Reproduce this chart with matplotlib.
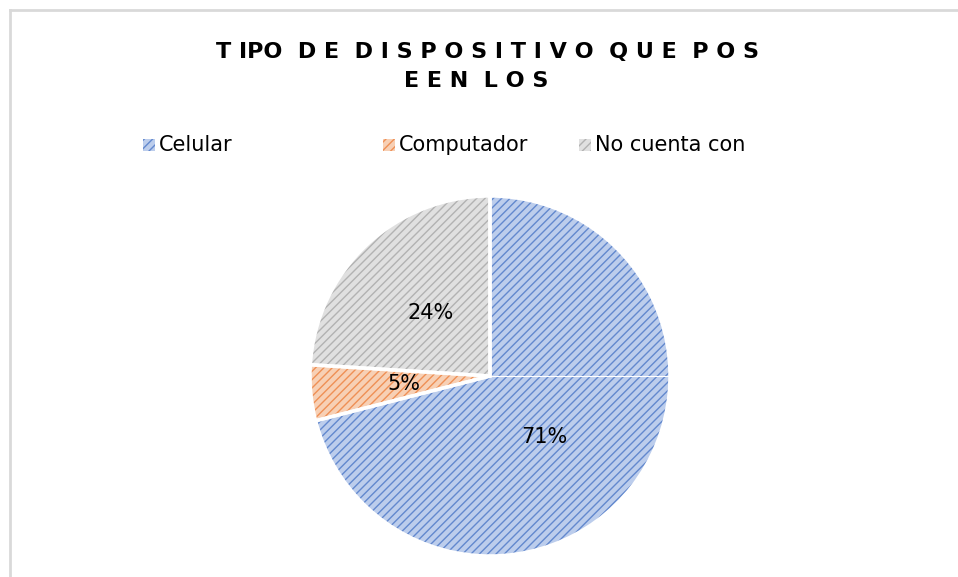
import matplotlib
matplotlib.use("Agg")
import matplotlib.pyplot as plt
from matplotlib.patches import Rectangle

categories = ["Celular", "Computador", "No cuenta con"]
values = [71, 5, 24]
title_lines = ["T IPO  D E  D I S P O S I T I V O  Q U E  P O S", "E E N  L O S"]

face_colors = ["#BCCDEC", "#F7D0B5", "#E0E0E0"]
hatch_colors = ["#6288CE", "#EF9055", "#B2B2B2"]

plt.rcParams["font.family"] = ["DejaVu Sans"]
plt.rcParams["hatch.linewidth"] = 1.0

W, H = 958, 577
fig = plt.figure(figsize=(W / 100, H / 100), dpi=100)
fig.patch.set_facecolor("white")

# chart border (top and left visible)
fig.add_artist(plt.Line2D([10 / W, 1.0], [1 - 10 / H, 1 - 10 / H], color="#D9D9D9", lw=2,
                          transform=fig.transFigure))
fig.add_artist(plt.Line2D([10 / W, 10 / W], [0, 1 - 10 / H], color="#D9D9D9", lw=2,
                          transform=fig.transFigure))

# pie axes: center (490, 376), radius 180 px
cx, cy, r = 490, 376, 180
ax = fig.add_axes([(cx - r) / W, 1 - (cy + r) / H, 2 * r / W, 2 * r / H])

wedges, texts, autotexts = ax.pie(
    values, colors=face_colors, startangle=90, counterclock=False, radius=1,
    autopct="%1.0f%%", pctdistance=0.48,
    wedgeprops=dict(edgecolor="white", linewidth=0),
    textprops=dict(fontsize=15, color="black"))
# hatch overlay
wedges2, _ = ax.pie(values, colors=["none"] * 3, startangle=90, counterclock=False, radius=1,
                    wedgeprops=dict(linewidth=0))
for w, hc in zip(wedges2, hatch_colors):
    w.set_hatch("////")
    w.set_edgecolor(hc)
    w.set_facecolor("none")
# white separators
wedges3, _ = ax.pie(values, colors=["none"] * 3, startangle=90, counterclock=False, radius=1,
                    wedgeprops=dict(edgecolor="white", linewidth=2.5, fill=False))
ax.plot([0, 1], [0, 0], color="white", lw=0.8)
for t in autotexts:
    t.set_zorder(10)
autotexts[0].set_position((0.30, -0.34))
ax.set_xlim(-1, 1)
ax.set_ylim(-1, 1)
ax.set_aspect("equal")
ax.axis("off")

# title
fig.text(487 / W, 1 - 52 / H, title_lines[0], ha="center", va="center",
         fontsize=16, fontweight="bold", color="black")
fig.text(476 / W, 1 - 81 / H, title_lines[1], ha="center", va="center",
         fontsize=16, fontweight="bold", color="black")

# legend entries
leg_x = [143, 383, 579]
for x, lab, fc, hc in zip(leg_x, categories, face_colors, hatch_colors):
    sq = 12
    fig.add_artist(Rectangle((x / W, 1 - (145 + sq / 2) / H), sq / W, sq / H,
                             facecolor=fc, edgecolor="none", transform=fig.transFigure))
    fig.add_artist(Rectangle((x / W, 1 - (145 + sq / 2) / H), sq / W, sq / H,
                             facecolor="none", edgecolor=hc, hatch="////", lw=0,
                             transform=fig.transFigure))
    fig.text((x + 16) / W, 1 - 145 / H, lab, ha="left", va="center", fontsize=15,
             color="black")

fig.savefig("out.png", dpi=100, facecolor="white")
